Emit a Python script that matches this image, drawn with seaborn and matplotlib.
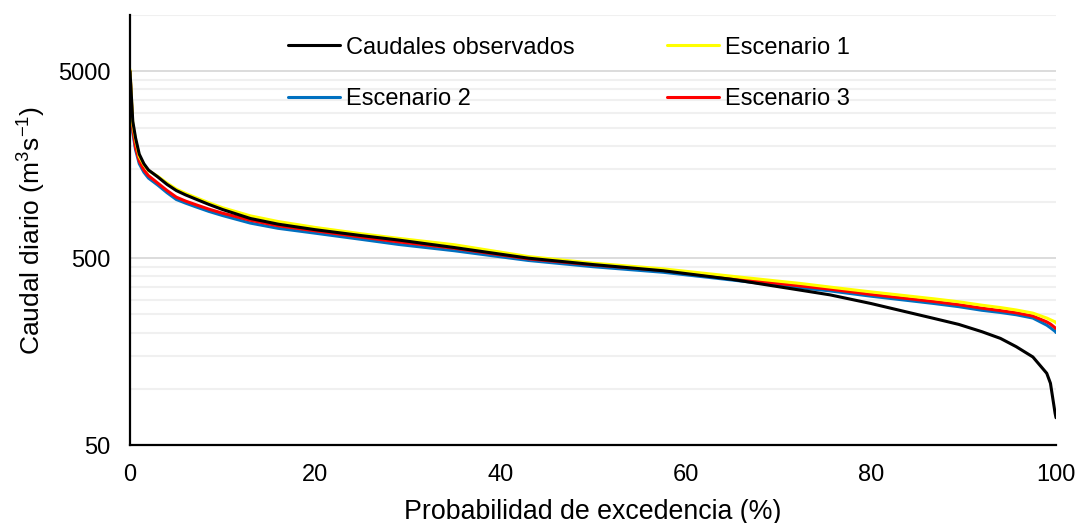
import pandas as pd
import seaborn as sns
import matplotlib.pyplot as plt
from matplotlib.ticker import FixedLocator, NullFormatter

# Probabilidad de excedencia (%) y caudales
prob = [0, 0.3, 0.6, 1, 1.5, 2, 3, 4, 5, 6, 7, 8.5, 10, 13, 16, 20, 25, 29, 35, 43,
        50, 57.6, 65, 72.4, 75.6, 80, 86.8, 89.5, 92, 94, 95.7, 97.5, 99, 99.4,
        99.9, 100]
observados = [5000, 2700, 2200, 1800, 1600, 1480, 1360, 1240, 1150, 1090, 1040, 970,
              910, 815, 760, 710, 660, 625, 570, 500, 462, 428, 385, 337, 318, 286,
              238, 221, 202, 186, 168, 148, 121, 107, 74, 70]
escenario1 = [5100, 2600, 2150, 1750, 1580, 1470, 1370, 1260, 1170, 1110, 1060, 990,
              930, 842, 785, 730, 675, 638, 590, 510, 470, 438, 400, 366, 350, 330,
              303, 292, 280, 272, 264, 254, 239, 234, 228, 225]
escenario2 = [4900, 2350, 1900, 1600, 1440, 1340, 1230, 1120, 1030, 985, 945, 890,
              845, 770, 722, 680, 630, 592, 548, 486, 450, 420, 382, 347, 334, 313,
              286, 275, 263, 256, 249, 239, 219, 212, 203, 200]
escenario3 = [5000, 2450, 1950, 1650, 1480, 1380, 1260, 1150, 1060, 1010, 970, 915,
              870, 797, 745, 700, 648, 611, 565, 496, 460, 430, 390, 355, 341, 320,
              293, 282, 270, 262, 255, 245, 228, 222, 212, 210]

y_ticks = [50, 500, 5000]
y_minor = [100, 150, 200, 250, 300, 350, 400, 450,
           1000, 1500, 2000, 2500, 3000, 3500, 4000, 4500, 10000]
x_ticks = [0, 20, 40, 60, 80, 100]

series = {
    "Escenario 2": (escenario2, "#0070c0"),
    "Escenario 3": (escenario3, "#ff0000"),
    "Escenario 1": (escenario1, "#ffff00"),
    "Caudales observados": (observados, "#000000"),
}

sns.set_style("white")
plt.rcParams['font.family'] = ['Liberation Sans', 'DejaVu Sans']
plt.rcParams['mathtext.default'] = 'regular'
plt.rcParams['text.color'] = 'black'
plt.rcParams['axes.labelcolor'] = 'black'
plt.rcParams['xtick.color'] = 'black'
plt.rcParams['ytick.color'] = 'black'

fig = plt.figure(figsize=(10.78, 5.23), dpi=100)
ax = fig.add_axes([0.1206, 0.1491, 0.8590, 0.8222])

lines = {}
for name, (vals, col) in series.items():
    df = pd.DataFrame({"prob": prob, "q": vals})
    sns.lineplot(data=df, x="prob", y="q", color=col, lw=2.2, ax=ax, label=name)
    lines[name] = ax.lines[-1]

ax.set_yscale("log")
ax.set_ylim(50, 10000)
ax.set_xlim(0, 100)
ax.set_yticks(y_ticks)
ax.set_yticklabels([str(t) for t in y_ticks])
ax.yaxis.set_minor_locator(FixedLocator(y_minor))
ax.yaxis.set_minor_formatter(NullFormatter())
ax.set_xticks(x_ticks)
ax.set_xticklabels([str(t) for t in x_ticks])

ax.grid(which="major", axis="y", color="#d9d9d9", lw=1.3, zorder=0)
ax.grid(which="minor", axis="y", color="#f0f0f0", lw=1.5, zorder=0)
ax.set_axisbelow(True)

for s in ["top", "right"]:
    ax.spines[s].set_visible(False)
for s in ["left", "bottom"]:
    ax.spines[s].set_linewidth(1.6)
    ax.spines[s].set_color("black")
ax.tick_params(which="major", direction="inout", length=10, width=1.6,
               labelsize=17)
ax.tick_params(axis="x", pad=9)
ax.tick_params(axis="y", pad=9)
ax.tick_params(which="minor", length=0)

ax.set_xlabel("Probabilidad de excedencia (%)", fontsize=19.3, labelpad=9)
ax.set_ylabel("Caudal diario (m$^{3}$s$^{-1}$)", fontsize=19, labelpad=7)

order = ["Caudales observados", "Escenario 2", "Escenario 1", "Escenario 3"]
ax.legend([lines[n] for n in order], order, ncol=2, frameon=False,
          loc="upper left", bbox_to_anchor=(0.1706, 0.95), fontsize=17,
          handlelength=2.2, handletextpad=0.25, columnspacing=3.93,
          labelspacing=1.25, borderaxespad=0, borderpad=0)

plt.savefig("out.png", dpi=100)
